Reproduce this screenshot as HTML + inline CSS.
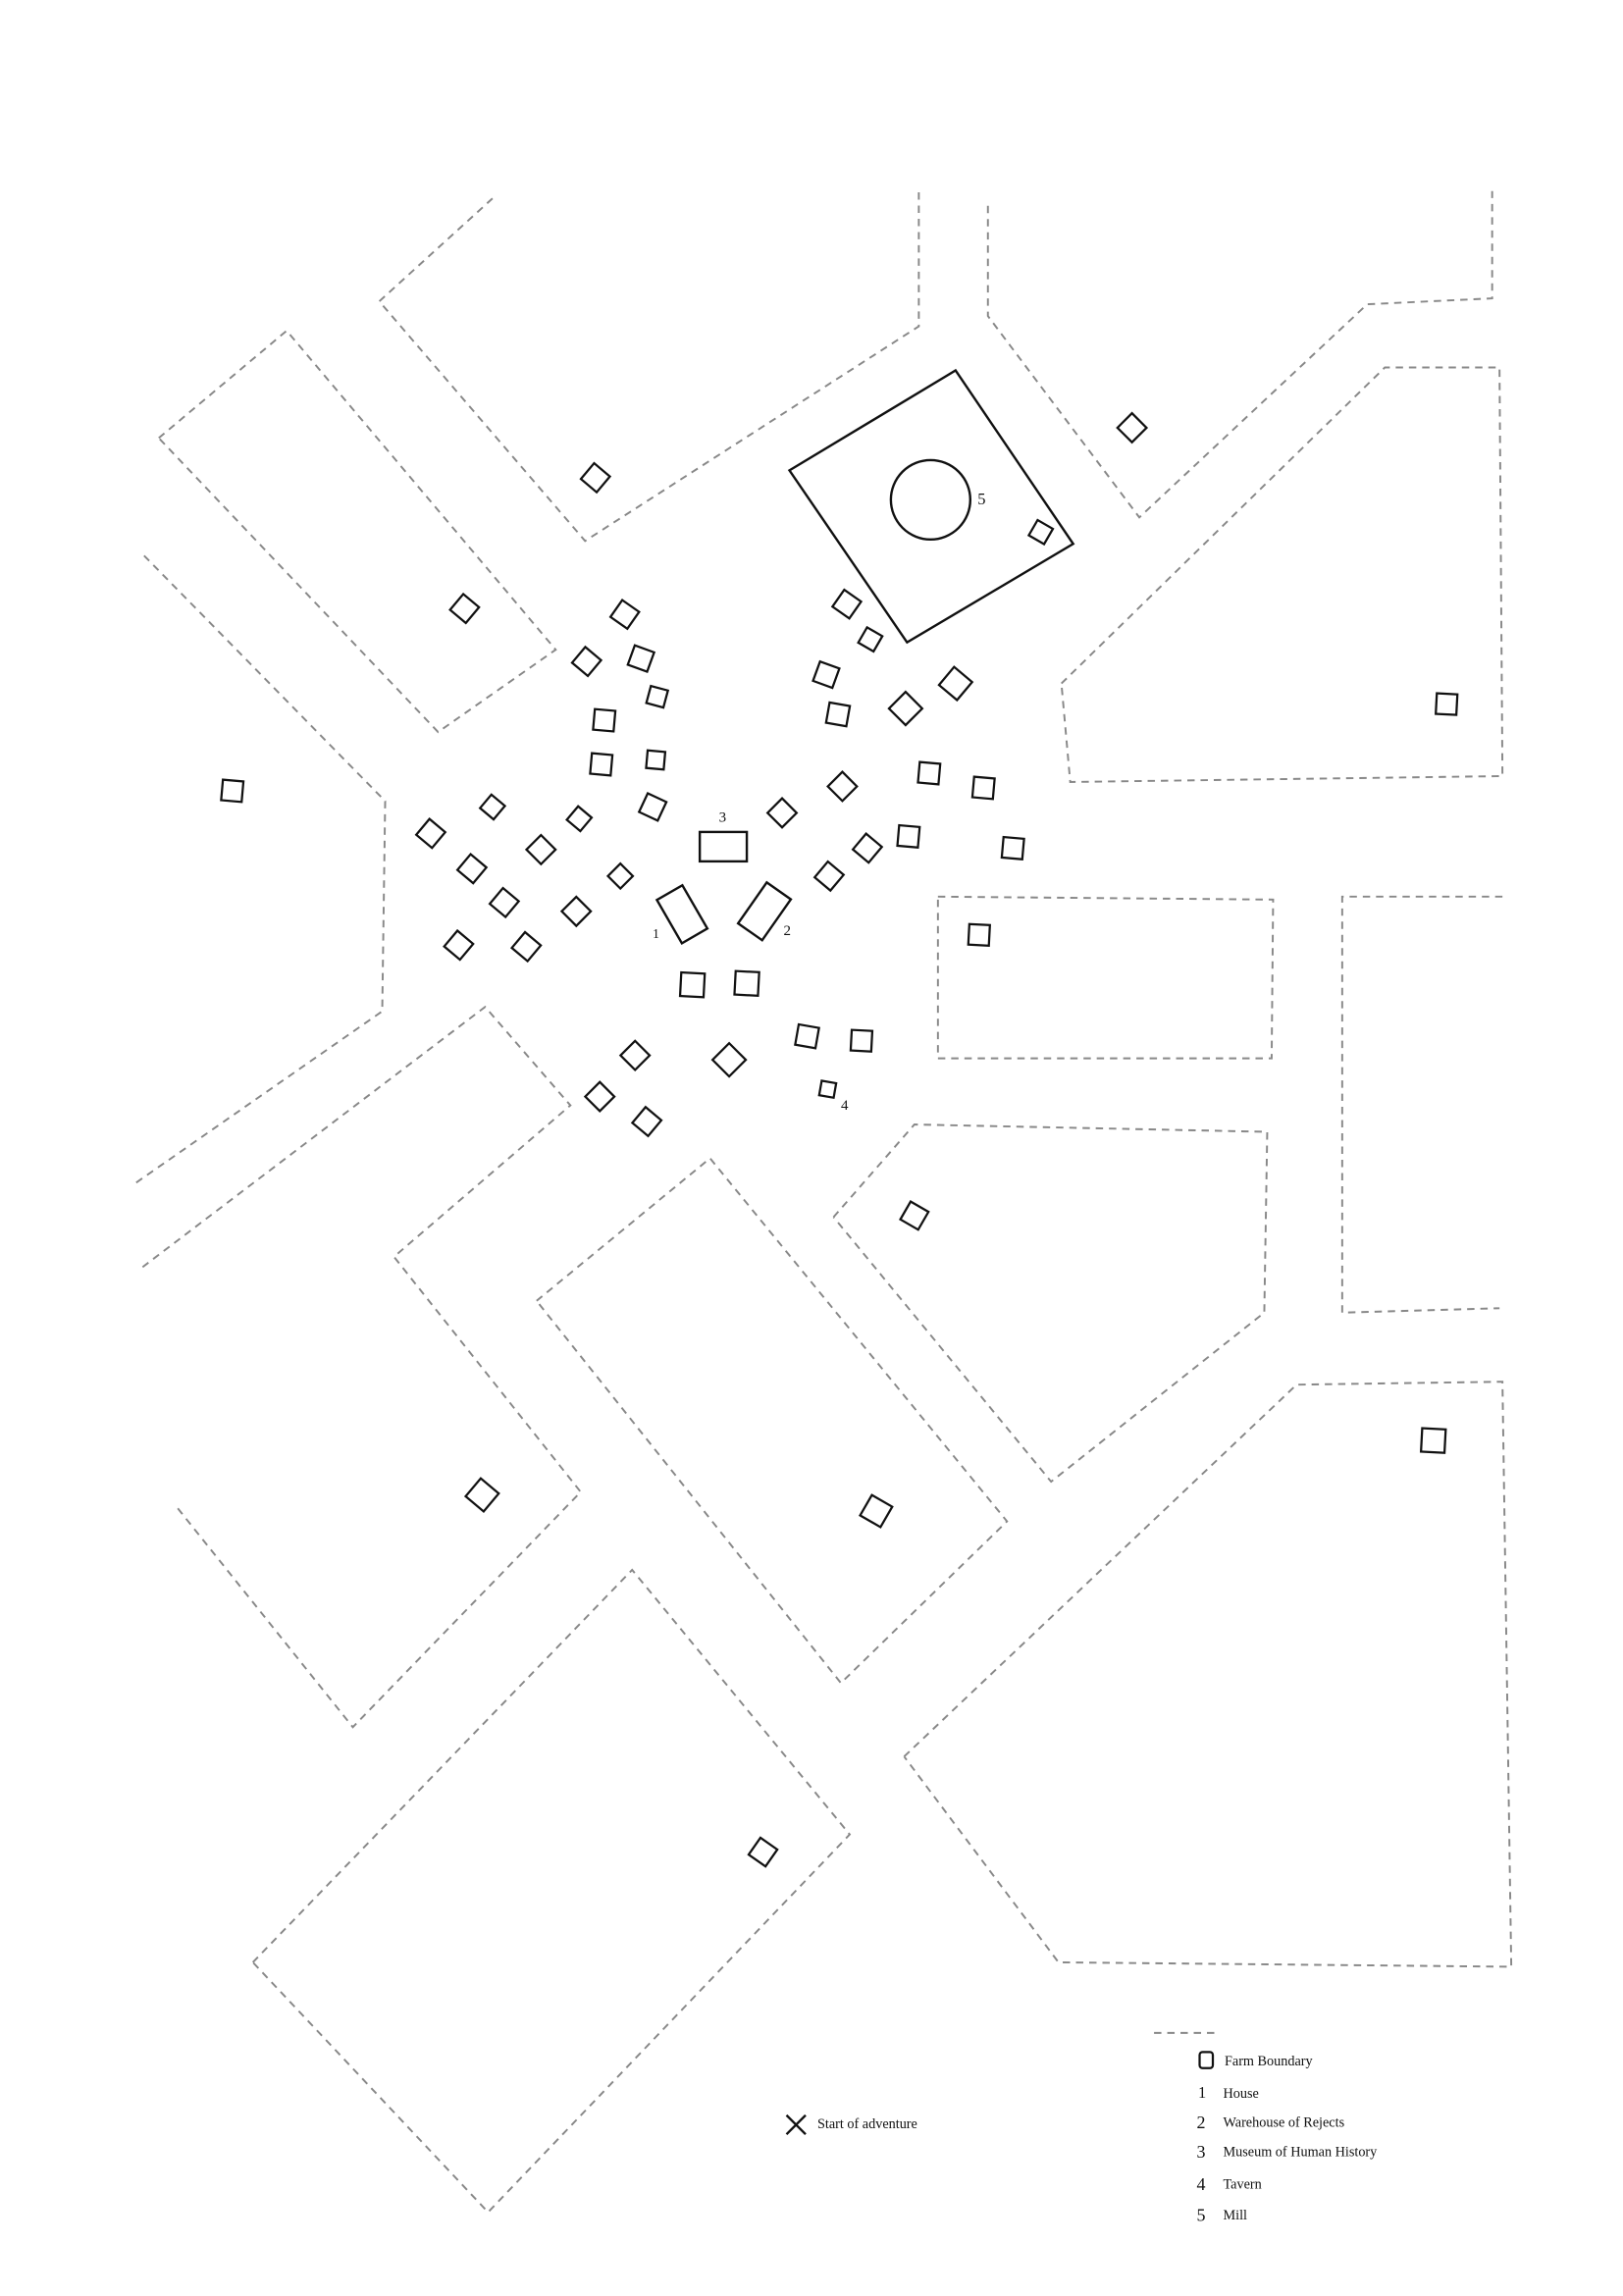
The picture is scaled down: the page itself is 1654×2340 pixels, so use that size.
<!DOCTYPE html>
<html><head><meta charset="utf-8"><style>html,body{margin:0;padding:0;background:#fff}svg{display:block}</style></head>
<body>
<svg width="1654" height="2340" viewBox="0 0 1104 1562" preserveAspectRatio="none" xmlns="http://www.w3.org/2000/svg">
<rect width="1104" height="1562" fill="#fff"/>
<g fill="none" stroke="#888" stroke-width="1.3" stroke-dasharray="5 4">
<polyline points="335,135 258,205 398,368 625,222 625,130"/>
<polygon points="108,298 195,225 378,442 298,498"/>
<polyline points="98,378 262,545 260,688 92,805"/>
<polyline points="97,862 330,685 388,752 268,855 395,1015 240,1175 120,1025"/>
<polygon points="365,885 483,788 685,1035 572,1145"/>
<polygon points="172,1335 430,1068 578,1248 332,1505"/>
<polyline points="567,828 622,765 862,770 860,893 715,1008 567,828"/>
<polygon points="638,610 866,612 865,720 638,720"/>
<polyline points="1022,610 913,610 913,893 1020,890"/>
<polyline points="615,1195 882,942 1022,940 1028,1338 720,1335 615,1195"/>
<polyline points="722,465 942,250 1020,250 1022,528 728,532 722,465"/>
<polyline points="672,140 672,215 775,352 930,207 1015,203 1015,130"/>
<line x1="785" y1="1383" x2="830" y2="1383"/>
</g>
<g fill="none" stroke="#111" stroke-width="1.6">
<polygon points="537,320 650,252 730,370 617,437"/>
<circle cx="633" cy="340" r="27"/>
<rect x="476" y="566" width="32" height="20"/>
<rect x="-10" y="-17" width="20" height="34" transform="translate(464,622) rotate(-30)"/>
<rect x="-10" y="-17" width="20" height="34" transform="translate(520,620) rotate(35)"/>
</g>
<g font-family="Liberation Serif, serif" fill="#111">
<text x="665" y="343" font-size="11">5</text>
<text x="489" y="559" font-size="10">3</text>
<text x="444" y="638" font-size="9">1</text>
<text x="533" y="636" font-size="10">2</text>
<text x="572" y="755" font-size="10">4</text>
<g font-size="9.5">
<text x="833" y="1405">Farm Boundary</text>
<text x="832" y="1427">House</text>
<text x="832" y="1447">Warehouse of Rejects</text>
<text x="832" y="1467">Museum of Human History</text>
<text x="832" y="1489">Tavern</text>
<text x="832" y="1510">Mill</text>
<text x="556" y="1448">Start of adventure</text>
<text x="815" y="1427" font-size="11">1</text>
<text x="814" y="1448" font-size="12">2</text>
<text x="814" y="1468" font-size="12">3</text>
<text x="814" y="1490" font-size="12">4</text>
<text x="814" y="1511" font-size="12">5</text>
</g>
</g>
<rect x="816" y="1396" width="9" height="11" rx="2" fill="none" stroke="#111" stroke-width="1.5"/>
<path d="M535,1439 L548,1452 M548,1439 L535,1452" stroke="#111" stroke-width="1.6"/>
<g fill="none" stroke="#111" stroke-width="1.5">
<rect x="-7" y="-7" width="14" height="14" transform="translate(405,325) rotate(40)"/>
<rect x="-7" y="-7" width="14" height="14" transform="translate(316,414) rotate(40)"/>
<rect x="-7" y="-7" width="14" height="14" transform="translate(158,538) rotate(5)"/>
<rect x="-7" y="-7" width="14" height="14" transform="translate(770,291) rotate(45)"/>
<rect x="-7" y="-7" width="14" height="14" transform="translate(984,479) rotate(3)"/>
<rect x="-7" y="-7" width="14" height="14" transform="translate(425,418) rotate(35)"/>
<rect x="-7" y="-7" width="14" height="14" transform="translate(399,450) rotate(40)"/>
<rect x="-7" y="-7" width="14" height="14" transform="translate(436,448) rotate(20)"/>
<rect x="-6" y="-6" width="12" height="12" transform="translate(447,474) rotate(15)"/>
<rect x="-7" y="-7" width="14" height="14" transform="translate(411,490) rotate(5)"/>
<rect x="-7" y="-7" width="14" height="14" transform="translate(409,520) rotate(5)"/>
<rect x="-6" y="-6" width="12" height="12" transform="translate(446,517) rotate(5)"/>
<rect x="-7" y="-7" width="14" height="14" transform="translate(444,549) rotate(25)"/>
<rect x="-6" y="-6" width="12" height="12" transform="translate(335,549) rotate(40)"/>
<rect x="-7" y="-7" width="14" height="14" transform="translate(293,567) rotate(40)"/>
<rect x="-6" y="-6" width="12" height="12" transform="translate(394,557) rotate(40)"/>
<rect x="-7" y="-7" width="14" height="14" transform="translate(368,578) rotate(45)"/>
<rect x="-7" y="-7" width="14" height="14" transform="translate(321,591) rotate(40)"/>
<rect x="-7" y="-7" width="14" height="14" transform="translate(343,614) rotate(40)"/>
<rect x="-6" y="-6" width="12" height="12" transform="translate(422,596) rotate(45)"/>
<rect x="-7" y="-7" width="14" height="14" transform="translate(392,620) rotate(45)"/>
<rect x="-7" y="-7" width="14" height="14" transform="translate(312,643) rotate(40)"/>
<rect x="-7" y="-7" width="14" height="14" transform="translate(358,644) rotate(40)"/>
<rect x="-7" y="-7" width="14" height="14" transform="translate(576,411) rotate(35)"/>
<rect x="-6" y="-6" width="12" height="12" transform="translate(592,435) rotate(30)"/>
<rect x="-7" y="-7" width="14" height="14" transform="translate(562,459) rotate(20)"/>
<rect x="-7" y="-7" width="14" height="14" transform="translate(570,486) rotate(10)"/>
<rect x="-8" y="-8" width="16" height="16" transform="translate(616,482) rotate(45)"/>
<rect x="-8" y="-8" width="16" height="16" transform="translate(650,465) rotate(40)"/>
<rect x="-7" y="-7" width="14" height="14" transform="translate(573,535) rotate(45)"/>
<rect x="-7" y="-7" width="14" height="14" transform="translate(632,526) rotate(5)"/>
<rect x="-7" y="-7" width="14" height="14" transform="translate(669,536) rotate(5)"/>
<rect x="-7" y="-7" width="14" height="14" transform="translate(532,553) rotate(45)"/>
<rect x="-7" y="-7" width="14" height="14" transform="translate(618,569) rotate(5)"/>
<rect x="-7" y="-7" width="14" height="14" transform="translate(590,577) rotate(40)"/>
<rect x="-7" y="-7" width="14" height="14" transform="translate(689,577) rotate(5)"/>
<rect x="-7" y="-7" width="14" height="14" transform="translate(564,596) rotate(40)"/>
<rect x="-7" y="-7" width="14" height="14" transform="translate(666,636) rotate(3)"/>
<rect x="-8" y="-8" width="16" height="16" transform="translate(471,670) rotate(3)"/>
<rect x="-8" y="-8" width="16" height="16" transform="translate(508,669) rotate(3)"/>
<rect x="-7" y="-7" width="14" height="14" transform="translate(432,718) rotate(45)"/>
<rect x="-8" y="-8" width="16" height="16" transform="translate(496,721) rotate(45)"/>
<rect x="-7" y="-7" width="14" height="14" transform="translate(549,705) rotate(10)"/>
<rect x="-7" y="-7" width="14" height="14" transform="translate(586,708) rotate(3)"/>
<rect x="-5" y="-5" width="10" height="10" transform="translate(563,741) rotate(10)"/>
<rect x="-7" y="-7" width="14" height="14" transform="translate(408,746) rotate(45)"/>
<rect x="-7" y="-7" width="14" height="14" transform="translate(440,763) rotate(40)"/>
<rect x="-7" y="-7" width="14" height="14" transform="translate(622,827) rotate(30)"/>
<rect x="-8" y="-8" width="16" height="16" transform="translate(328,1017) rotate(40)"/>
<rect x="-8" y="-8" width="16" height="16" transform="translate(596,1028) rotate(30)"/>
<rect x="-7" y="-7" width="14" height="14" transform="translate(519,1260) rotate(35)"/>
<rect x="-8" y="-8" width="16" height="16" transform="translate(975,980) rotate(3)"/>
<rect x="-6" y="-6" width="12" height="12" transform="translate(708,362) rotate(30)"/>
</g>
</svg>
</body></html>
